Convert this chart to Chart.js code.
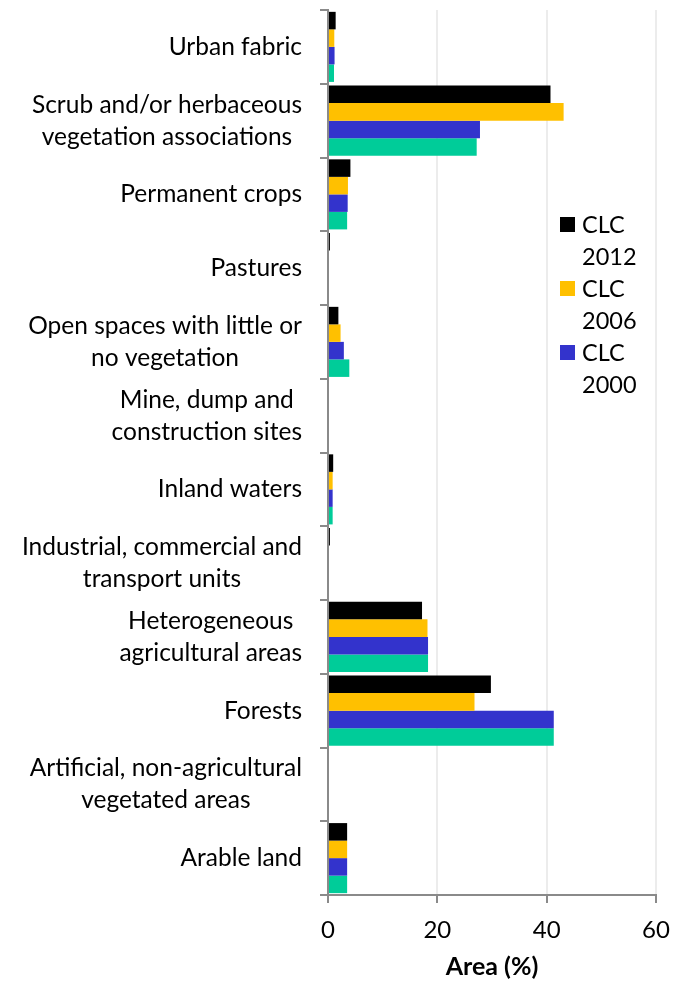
<html>
<head>
  <title>Land cover area by class</title>
  <script src="https://cdn.jsdelivr.net/npm/chart.js"></script>
  <style>
    body { margin: 0; background: #fff; }
    #wrap { width: 683px; height: 988px; }
  </style>
</head>
<body>
  <div id="wrap"><canvas id="myChart" width="683" height="988"></canvas></div>

  <script>
    // Categories (each label split into its wrapped lines)
    var categories = [
      ["Urban fabric"],
      ["Scrub and/or herbaceous", "vegetation associations"],
      ["Permanent crops"],
      ["Pastures"],
      ["Open spaces with little or", "no vegetation"],
      ["Mine, dump and", "construction sites"],
      ["Inland waters"],
      ["Industrial, commercial and", "transport units"],
      ["Heterogeneous", "agricultural areas"],
      ["Forests"],
      ["Artificial, non-agricultural", "vegetated areas"],
      ["Arable land"]
    ];

    // Area (%) per CLC inventory
    var clc2012 = [1.4, 40.7, 4.1, 0.35, 1.9, 0, 0.95, 0.35, 17.2, 29.8, 0, 3.5];
    var clc2006 = [1.15, 43.1, 3.65, 0, 2.3, 0, 0.85, 0, 18.2, 26.8, 0, 3.5];
    var clc2000 = [1.2, 27.8, 3.6, 0, 2.9, 0, 0.85, 0, 18.3, 41.3, 0, 3.5];
    var clc1990 = [1.1, 27.2, 3.5, 0, 3.9, 0, 0.85, 0, 18.3, 41.3, 0, 3.5];

    var xTicks = [0, 20, 40, 60];

    var FONT = "Lato";
    var AXIS_GREY = "#8a8a8a";

    // y labels: wrapped lines centred on each other, block right-aligned
    var yLabelPlugin = {
      id: "yLabels",
      afterDraw: function (chart) {
        var ctx = chart.ctx;
        var y = chart.scales.y;
        var right = y.right - 26;
        var lh = 32;
        ctx.save();
        ctx.font = "24.5px " + FONT;
        ctx.fillStyle = "#000";
        ctx.textAlign = "center";
        ctx.textBaseline = "middle";
        chart.data.labels.forEach(function (lines, i) {
          var cy = y.getPixelForValue(i);
          var w = 0;
          lines.forEach(function (t) { w = Math.max(w, ctx.measureText(t).width); });
          var cx = right - w / 2;
          var top = cy - (lines.length - 1) * lh / 2;
          lines.forEach(function (t, k) { ctx.fillText(t, cx, top + k * lh); });
        });
        ctx.restore();
      }
    };

    // Legend with wrapped labels, only first three series shown
    var legendPlugin = {
      id: "wrapLegend",
      afterDraw: function (chart) {
        var ctx = chart.ctx;
        ctx.save();
        ctx.font = "23.5px " + FONT;
        ctx.textAlign = "left";
        ctx.textBaseline = "middle";
        chart.data.datasets.slice(0, 3).forEach(function (ds, i) {
          var top = 217 + i * 64;
          ctx.fillStyle = ds.backgroundColor;
          ctx.fillRect(560, top, 15, 15);
          ctx.fillStyle = "#000";
          var parts = ds.label.split(" ");
          ctx.fillText(parts[0], 582, top + 8);
          ctx.fillText(parts[1], 582, top + 40);
        });
        ctx.restore();
      }
    };

    function drawChart() {
      var ctx = document.getElementById("myChart").getContext("2d");

      new Chart(ctx, {
        type: "bar",
        data: {
          labels: categories,
          datasets: [
            { label: "CLC 2012", data: clc2012, backgroundColor: "#000000" },
            { label: "CLC 2006", data: clc2006, backgroundColor: "#FFC000" },
            { label: "CLC 2000", data: clc2000, backgroundColor: "#3333CC" },
            { label: "CLC 1990", data: clc1990, backgroundColor: "#00CC99" }
          ]
        },
        options: {
          indexAxis: "y",
          responsive: false,
          animation: false,
          devicePixelRatio: 1,
          layout: { padding: { top: 10, right: 27, left: 0, bottom: 0 } },
          datasets: {
            bar: { categoryPercentage: 0.95, barPercentage: 1.0 }
          },
          plugins: {
            legend: { display: false },
            tooltip: { enabled: false }
          },
          scales: {
            x: {
              min: 0,
              max: 60,
              afterBuildTicks: function (scale) {
                scale.ticks = xTicks.map(function (v) { return { value: v }; });
              },
              afterFit: function (scale) { scale.height = 93; },
              grid: {
                color: "#ececec",
                lineWidth: 2,
                tickLength: 8,
                tickColor: AXIS_GREY,
                drawOnChartArea: true
              },
              border: { color: AXIS_GREY, width: 2 },
              ticks: {
                color: "#000",
                padding: 13,
                font: { family: FONT, size: 24 }
              },
              title: {
                display: true,
                text: "Area (%)",
                color: "#000",
                padding: { top: 4, bottom: 6 },
                font: { family: FONT, size: 25, weight: "bold" }
              }
            },
            y: {
              afterFit: function (scale) { scale.width = 328; },
              grid: {
                drawOnChartArea: false,
                tickLength: 8,
                tickColor: AXIS_GREY,
                lineWidth: 2
              },
              border: { color: AXIS_GREY, width: 2 },
              ticks: { display: false }
            }
          }
        },
        plugins: [yLabelPlugin, legendPlugin]
      });
    }

    drawChart();
  </script>
</body>
</html>
